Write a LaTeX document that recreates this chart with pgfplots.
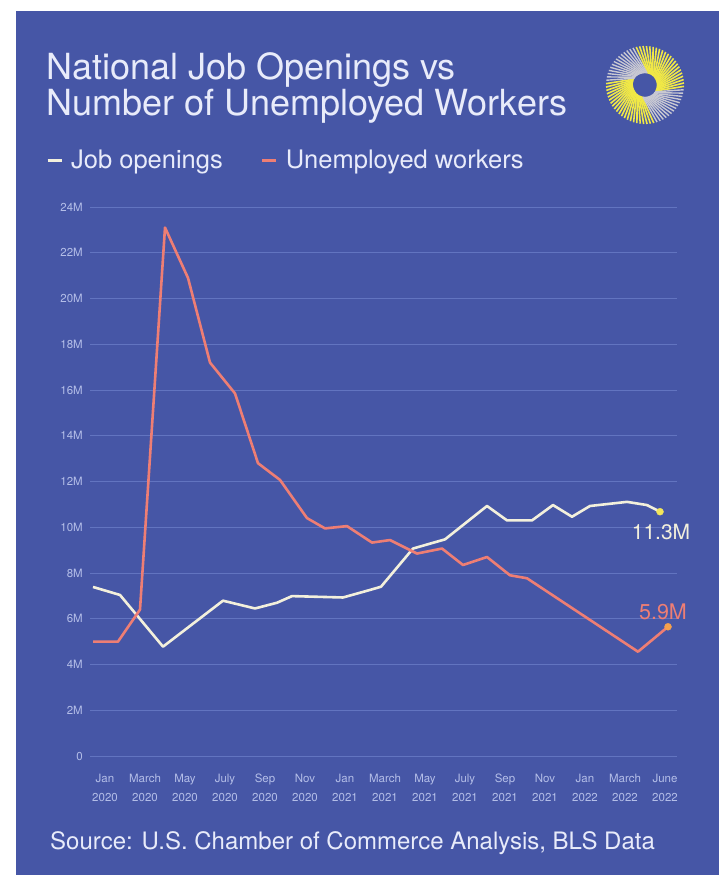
\documentclass[border=0pt]{standalone}
\usepackage{pgfplots}
\pgfplotsset{compat=1.18}
\usepackage{fontspec}
\setmainfont{TeX Gyre Heros}
\definecolor{bg}{RGB}{70,86,166}
\definecolor{gridc}{RGB}{98,116,192}
\definecolor{ticktxt}{RGB}{180,190,232}
\definecolor{cream}{RGB}{243,240,220}
\definecolor{coral}{RGB}{238,126,116}
\definecolor{dotyellow}{RGB}{242,229,90}
\definecolor{dotorange}{RGB}{244,160,76}
\definecolor{txt}{RGB}{232,235,250}
\definecolor{logoy}{RGB}{240,232,70}
\definecolor{logog}{RGB}{200,200,210}
\begin{document}
\begin{tikzpicture}[x=1pt,y=1pt]
\fill[white] (0,0) rectangle (720,-875);
\fill[bg] (16,-11) rectangle (719,-875);
% title
\node[anchor=base west, text=txt, font=\fontsize{36}{38}\selectfont, inner sep=0pt] at (46,-79) {National Job Openings vs};
\node[anchor=base west, text=txt, font=\fontsize{36}{38}\selectfont, inner sep=0pt] at (46,-115) {Number of Unemployed Workers};
% source
\node[anchor=west, text=txt, font=\fontsize{24}{26}\selectfont, inner sep=0pt] at (50,-843) {Source: U.S. Chamber of Commerce Analysis, BLS Data};
% logo
\begin{scope}[shift={(645,-85)}]
\foreach \a in {-30,-25,...,75} \draw[logoy, line width=1.6pt] (\a:12) -- (\a+28:39);
\foreach \a in {150,155,...,255} \draw[logoy, line width=1.6pt] (\a:12) -- (\a+28:39);
\foreach \a in {80,85,...,145} \draw[logog, line width=1.4pt] (\a:12) -- (\a+28:39);
\foreach \a in {260,265,...,325} \draw[logog, line width=1.4pt] (\a:12) -- (\a+28:39);
\fill[bg] (-2,1) circle (10);
\end{scope}
\begin{axis}[
  at={(90pt,-756pt)}, anchor=south west,
  scale only axis, width=587pt, height=549pt,
  xmin=-0.375, xmax=14.3, ymin=0, ymax=24,
  clip=false,
  axis line style={draw=none},
  tick style={draw=none},
  ymajorgrids, major grid style={gridc, line width=1pt},
  ytick={0,2,...,24},
  yticklabels={0,2M,4M,6M,8M,10M,12M,14M,16M,18M,20M,22M,24M},
  yticklabel style={font=\fontsize{11.5}{14}\selectfont, text=ticktxt, inner sep=0pt, anchor=east, xshift=-7pt},
  xtick={0,...,14},
  xticklabels={{Jan\\2020},{March\\2020},{May\\2020},{July\\2020},{Sep\\2020},{Nov\\2020},{Jan\\2021},{March\\2021},{May\\2021},{July\\2021},{Sep\\2021},{Nov\\2021},{Jan\\2022},{March\\2022},{June\\2022}},
  xticklabel style={font=\fontsize{11.5}{19}\selectfont, text=ticktxt, inner sep=0pt, align=center, anchor=north, yshift=-18pt},
  /pgf/number format/assume math mode=true,
  legend columns=2,
  legend style={at={(-0.075,1.0856)}, anchor=west, draw=none, fill=none, text=txt,
    font=\fontsize{25.5}{27}\selectfont, inner sep=0pt, column sep=6pt,
    /tikz/every even column/.append style={column sep=36pt}},
  legend image code/.code={\draw[#1, line width=3pt] (0pt,0pt) -- (14pt,0pt);},
]
\addplot[cream, line width=2.6pt, line join=round] coordinates {
(-0.3,7.39) (0.375,7.04) (1.45,4.78) (2.95,6.79) (3.75,6.45) (4.3,6.7) (4.675,6.99) (5.95,6.93) (6.625,7.26) (6.9,7.4) (7.7,9.07) (8.5,9.47) (9.55,10.93) (10.05,10.3) (10.675,10.3) (11.2,10.97) (11.675,10.46) (12.125,10.93) (13.05,11.11) (13.55,10.97) (13.875,10.68)};
\addlegendentry{Job openings}
\addplot[coral, line width=2.6pt, line join=round] coordinates {
(-0.3,5.0) (0.325,5.0) (0.875,6.4) (1.5,23.1) (2.075,20.9) (2.625,17.2) (3.25,15.85) (3.825,12.8) (4.375,12.07) (5.05,10.4) (5.5,9.95) (6.05,10.05) (6.675,9.33) (7.125,9.44) (7.8,8.85) (8.425,9.07) (8.95,8.35) (9.55,8.7) (10.125,7.9) (10.55,7.77) (13.325,4.56) (14.075,5.65)};
\addlegendentry{Unemployed workers}
\addplot[only marks, mark=*, mark size=3.5pt, dotyellow, forget plot] coordinates {(13.875,10.68)};
\addplot[only marks, mark=*, mark size=3.5pt, dotorange, forget plot] coordinates {(14.075,5.65)};
\node[text=cream, font=\fontsize{21}{23}\selectfont, inner sep=0pt] at (axis cs:13.9,9.79) {11.3M};
\node[text=coral, font=\fontsize{21.5}{23}\selectfont, inner sep=0pt] at (axis cs:13.95,6.3) {5.9M};
\end{axis}
\end{tikzpicture}
\end{document}
